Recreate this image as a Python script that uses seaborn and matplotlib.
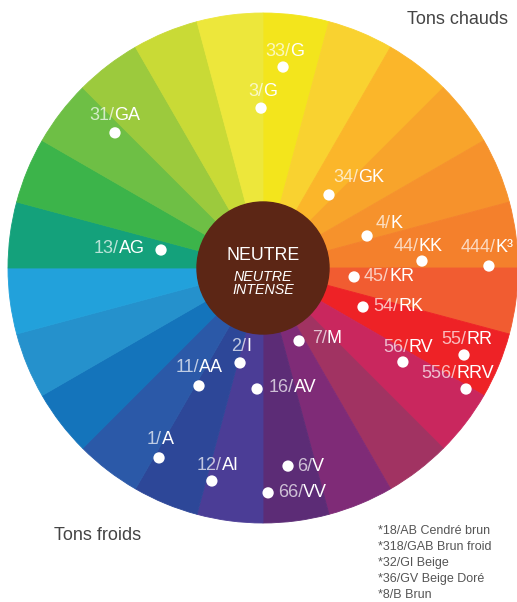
import numpy as np
import matplotlib.pyplot as plt
import seaborn as sns
from matplotlib.offsetbox import TextArea, HPacker, AnnotationBbox

# 24 sectors of the wheel, clockwise from 12 o'clock
sector_colors = ['#F3E51C', '#F9D230', '#FBB62A', '#F8A42B', '#F6922C', '#F4802C',
                 '#F15C31', '#EE2226', '#C9275E', '#A13362', '#7F2B77', '#5C2C76',
                 '#4B3D96', '#2D4798', '#2B59A8', '#1474BB', '#2591CC', '#22A1DB',
                 '#14A17B', '#3CB44A', '#6EBF45', '#9CCA3D', '#C9DA36', '#EDE73B']
sector_sizes = [1] * 24

# shade codes: number part, letter part, dot angle (deg) and radius (fraction of wheel)
code_num = ['33', '3', '31', '34', '4', '44', '444', '45', '54', '55', '56',
            '556', '7', '2', '11', '16', '1', '12', '6', '66', '13']
code_let = ['G', 'G', 'GA', 'GK', 'K', 'KK', 'K³', 'KR', 'RK', 'RR', 'RV',
            'RRV', 'M', 'I', 'AA', 'AV', 'A', 'AI', 'V', 'VV', 'AG']
dot_angle = [84.3, 90.7, 137.6, 47.9, 17.1, 2.5, 0.5, -5.6, -21.3, -23.4, -33.9,
             -30.8, -63.7, -103.6, -118.5, -92.8, -118.7, -103.5, -82.8, -88.7, 170.0]
dot_radius = [0.792, 0.627, 0.786, 0.386, 0.427, 0.624, 0.886, 0.359, 0.421, 0.859, 0.661,
              0.927, 0.319, 0.383, 0.526, 0.475, 0.849, 0.859, 0.783, 0.882, 0.406]

notes = ['*18/AB Cendré brun', '*318/GAB Brun froid', '*32/GI Beige',
         '*36/GV Beige Doré', '*8/B Brun']

# label placement (side, offset in px from the dot)
label_layout = [('above', 2, 16), ('above', 2, 17), ('above', 0, 17), ('above', 30, 17),
                ('above', 22, 12), ('above', -4, 15), ('above', -2, 19), ('right', 10, 0),
                ('right', 10, 0), ('above', 3, 15), ('above', 5, 15), ('above', -8, 16),
                ('right', 13, 2), ('above', 1, 16), ('above', 0, 18), ('right', 12, 1),
                ('above', 1, 18), ('above', 6, 15), ('right', 9, 0), ('right', 10, 0),
                ('left', -16, 2)]

W, H, DPI = 517, 602, 100
CX, CY, R = 263, 268, 255
PT = 72 / DPI

sns.set_theme(style='white')
plt.rcParams['font.family'] = ['Liberation Sans', 'DejaVu Sans']

fig = plt.figure(figsize=(W / DPI, H / DPI), dpi=DPI)
ax = fig.add_axes([0, 0, 1, 1])

wedges, _ = ax.pie(sector_sizes, colors=sector_colors, startangle=90, counterclock=False,
                   radius=1, wedgeprops=dict(linewidth=0.6))
for w in wedges:
    w.set_edgecolor(w.get_facecolor())
ax.add_patch(plt.Circle((0, 0), 66 / R, color='#5C2615', zorder=3))

th = np.deg2rad(dot_angle)
xs = np.array(dot_radius) * np.cos(th)
ys = np.array(dot_radius) * np.sin(th)
sns.scatterplot(x=xs, y=ys, ax=ax, color='white', s=66, edgecolor='none',
                zorder=5, legend=False)

aligns = {'above': (0.5, 0.5), 'right': (0.0, 0.5), 'left': (1.0, 0.5)}
for i in range(len(code_num)):
    side, ox, oy = label_layout[i]
    t1 = TextArea(code_num[i] + '/', textprops=dict(color='white', alpha=0.7, fontsize=13))
    t2 = TextArea(code_let[i], textprops=dict(color='white', fontsize=13))
    box = HPacker(children=[t1, t2], align='baseline', pad=0, sep=0)
    ab = AnnotationBbox(box, (xs[i], ys[i]), xybox=(ox * PT, oy * PT), xycoords='data',
                        boxcoords='offset points', box_alignment=aligns[side],
                        frameon=False, pad=0, zorder=6)
    ax.add_artist(ab)

# centre
ax.text(0, (CY - 255) / R, 'NEUTRE', color='white', fontsize=12.8,
        ha='center', va='center', zorder=6)
ax.text(0, (CY - 277) / R, 'NEUTRE', color='white', fontsize=10.3, style='italic',
        ha='center', va='center', zorder=6)
ax.text(0, (CY - 290) / R, 'INTENSE', color='white', fontsize=10.3, style='italic',
        ha='center', va='center', zorder=6)

ax.set_xlim(-CX / R, (W - CX) / R)
ax.set_ylim((CY - H) / R, CY / R)
ax.set_aspect('equal')
ax.axis('off')

fig.text(508 / W, 1 - 20 / H, 'Tons chauds', ha='right', va='center',
         color='#444444', fontsize=13)
fig.text(54 / W, 1 - 535 / H, 'Tons froids', ha='left', va='center',
         color='#444444', fontsize=13)
for k, line in enumerate(notes):
    fig.text(378 / W, 1 - (531 + 16 * k) / H, line, ha='left', va='center',
             color='#555555', fontsize=9)

fig.savefig('out.png', dpi=DPI)
